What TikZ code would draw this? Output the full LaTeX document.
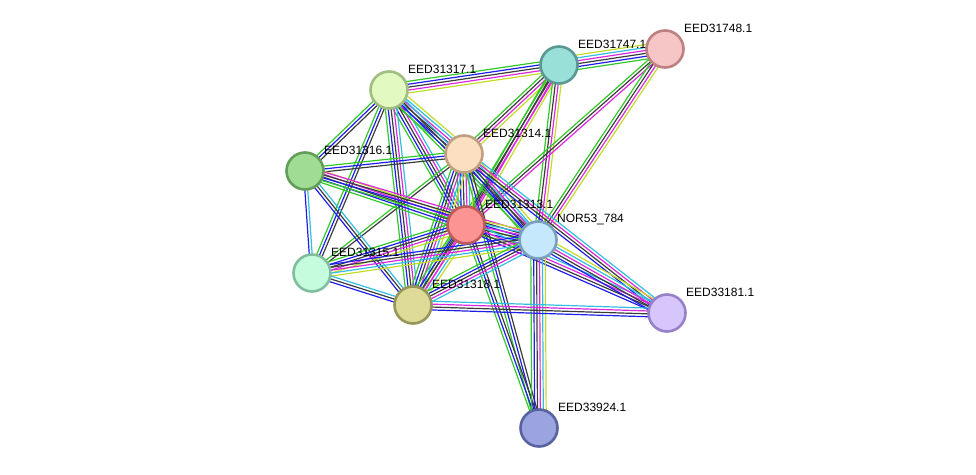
\documentclass[tikz,border=0pt]{standalone}
\usepackage{fontspec}
\setmainfont{Liberation Sans}
\usepackage{tikz}
\usetikzlibrary{calc, backgrounds, positioning}
\usepackage{xcolor}
\definecolor{LinkGreen}{RGB}{50, 200, 40}
\definecolor{LinkBlue}{RGB}{30, 30, 235}
\definecolor{LinkBlack}{RGB}{60, 60, 60}
\definecolor{LinkMagenta}{RGB}{220, 40, 220}
\definecolor{LinkCyan}{RGB}{50, 190, 225}
\definecolor{LinkYellow}{RGB}{195, 220, 40}

% bundle of coloured evidence lines between two proteins
\newcommand{\linkbundle}[4]{%
  \foreach \lc [count=\li] in {#4} {
    \pgfmathsetmacro\off{(\li-(#3+1)/2)*2.9}
    \draw[\lc, line width=1.2pt] ($(#1)!\off pt!90:(#2)$) -- ($(#2)!\off pt!-90:(#1)$);
  }%
}

\begin{document}
\begin{tikzpicture}[x=1pt, y=-1pt,
    protein/.style={circle, minimum size=37pt, inner sep=0pt, line width=2.6pt},
    tag/.style={font=\fontsize{12}{14}\selectfont, anchor=west, inner sep=1pt}]
  \useasboundingbox (0,0) rectangle (976,474);

  \foreach \n/\x/\y/\fc/\bc/\t in {
      A/559/65/{152,224,216}/{90,152,146}/EED31747.1,
      B/665/49/{246,198,198}/{190,128,128}/EED31748.1,
      C/389/90/{226,250,194}/{160,190,128}/EED31317.1,
      D/464/154/{252,222,192}/{192,160,128}/EED31314.1,
      E/305/171/{160,220,148}/{98,158,90}/EED31316.1,
      F/466/225/{252,148,148}/{190,90,90}/EED31313.1,
      G/538/240/{198,232,252}/{122,160,190}/NOR53\_784,
      H/312/273/{198,252,222}/{128,190,158}/EED31315.1,
      I/413/305/{222,218,152}/{150,150,90}/EED31318.1,
      J/667/313/{214,198,252}/{150,128,200}/EED33181.1,
      K/539/428/{156,164,224}/{88,98,160}/EED33924.1} {
    \definecolor{fill\n}{RGB}{\fc}
    \definecolor{draw\n}{RGB}{\bc}
    \node[protein, fill=fill\n, draw=draw\n] (\n) at (\x,\y) {};
    \node[tag] (\n-tag) at ($(\n)+(18,-21)$) {\t};
  }

  \begin{scope}[on background layer]
    \linkbundle{A}{B}{6}{LinkGreen,LinkBlue,LinkBlack,LinkMagenta,LinkCyan,LinkYellow}
    \linkbundle{A}{C}{5}{LinkGreen,LinkBlue,LinkBlack,LinkMagenta,LinkYellow}
    \linkbundle{A}{D}{4}{LinkGreen,LinkBlack,LinkMagenta,LinkYellow}
    \linkbundle{A}{F}{4}{LinkGreen,LinkBlack,LinkMagenta,LinkYellow}
    \linkbundle{A}{G}{4}{LinkGreen,LinkBlack,LinkMagenta,LinkYellow}
    \linkbundle{A}{I}{3}{LinkGreen,LinkBlack,LinkMagenta}
    \linkbundle{B}{F}{3}{LinkGreen,LinkBlack,LinkMagenta}
    \linkbundle{B}{G}{4}{LinkGreen,LinkBlack,LinkMagenta,LinkYellow}
    \linkbundle{C}{D}{6}{LinkGreen,LinkBlue,LinkBlack,LinkMagenta,LinkCyan,LinkYellow}
    \linkbundle{C}{E}{3}{LinkGreen,LinkBlue,LinkBlack}
    \linkbundle{C}{F}{5}{LinkGreen,LinkBlue,LinkBlack,LinkMagenta,LinkCyan}
    \linkbundle{C}{G}{4}{LinkGreen,LinkBlue,LinkBlack,LinkCyan}
    \linkbundle{C}{H}{3}{LinkGreen,LinkBlue,LinkBlack}
    \linkbundle{C}{I}{5}{LinkGreen,LinkBlue,LinkBlack,LinkMagenta,LinkCyan}
    \linkbundle{D}{E}{3}{LinkGreen,LinkBlue,LinkBlack}
    \linkbundle{D}{F}{6}{LinkGreen,LinkBlue,LinkBlack,LinkMagenta,LinkCyan,LinkYellow}
    \linkbundle{D}{G}{6}{LinkGreen,LinkBlue,LinkBlack,LinkMagenta,LinkCyan,LinkYellow}
    \linkbundle{D}{H}{2}{LinkGreen,LinkBlack}
    \linkbundle{D}{I}{6}{LinkGreen,LinkBlue,LinkBlack,LinkMagenta,LinkCyan,LinkYellow}
    \linkbundle{D}{J}{4}{LinkBlue,LinkBlack,LinkMagenta,LinkCyan}
    \linkbundle{D}{K}{3}{LinkGreen,LinkBlue,LinkBlack}
    \linkbundle{E}{F}{5}{LinkGreen,LinkBlue,LinkBlack,LinkMagenta,LinkYellow}
    \linkbundle{E}{G}{4}{LinkGreen,LinkBlue,LinkBlack,LinkMagenta}
    \linkbundle{E}{H}{2}{LinkBlue,LinkCyan}
    \linkbundle{E}{I}{3}{LinkBlue,LinkBlack,LinkCyan}
    \linkbundle{F}{G}{6}{LinkGreen,LinkBlue,LinkBlack,LinkMagenta,LinkCyan,LinkYellow}
    \linkbundle{F}{H}{5}{LinkGreen,LinkBlue,LinkBlack,LinkMagenta,LinkYellow}
    \linkbundle{F}{I}{6}{LinkGreen,LinkBlue,LinkBlack,LinkMagenta,LinkCyan,LinkYellow}
    \linkbundle{F}{J}{4}{LinkBlue,LinkBlack,LinkMagenta,LinkCyan}
    \linkbundle{F}{K}{3}{LinkGreen,LinkBlue,LinkBlack}
    \linkbundle{G}{H}{5}{LinkBlue,LinkBlack,LinkMagenta,LinkCyan,LinkYellow}
    \linkbundle{G}{I}{5}{LinkGreen,LinkBlue,LinkBlack,LinkMagenta,LinkCyan}
    \linkbundle{G}{J}{5}{LinkBlue,LinkBlack,LinkMagenta,LinkCyan,LinkYellow}
    \linkbundle{G}{K}{6}{LinkGreen,LinkBlue,LinkBlack,LinkMagenta,LinkCyan,LinkYellow}
    \linkbundle{H}{I}{3}{LinkBlue,LinkBlack,LinkCyan}
    \linkbundle{I}{J}{4}{LinkBlue,LinkBlack,LinkMagenta,LinkCyan}
  \end{scope}
\end{tikzpicture}
\end{document}
